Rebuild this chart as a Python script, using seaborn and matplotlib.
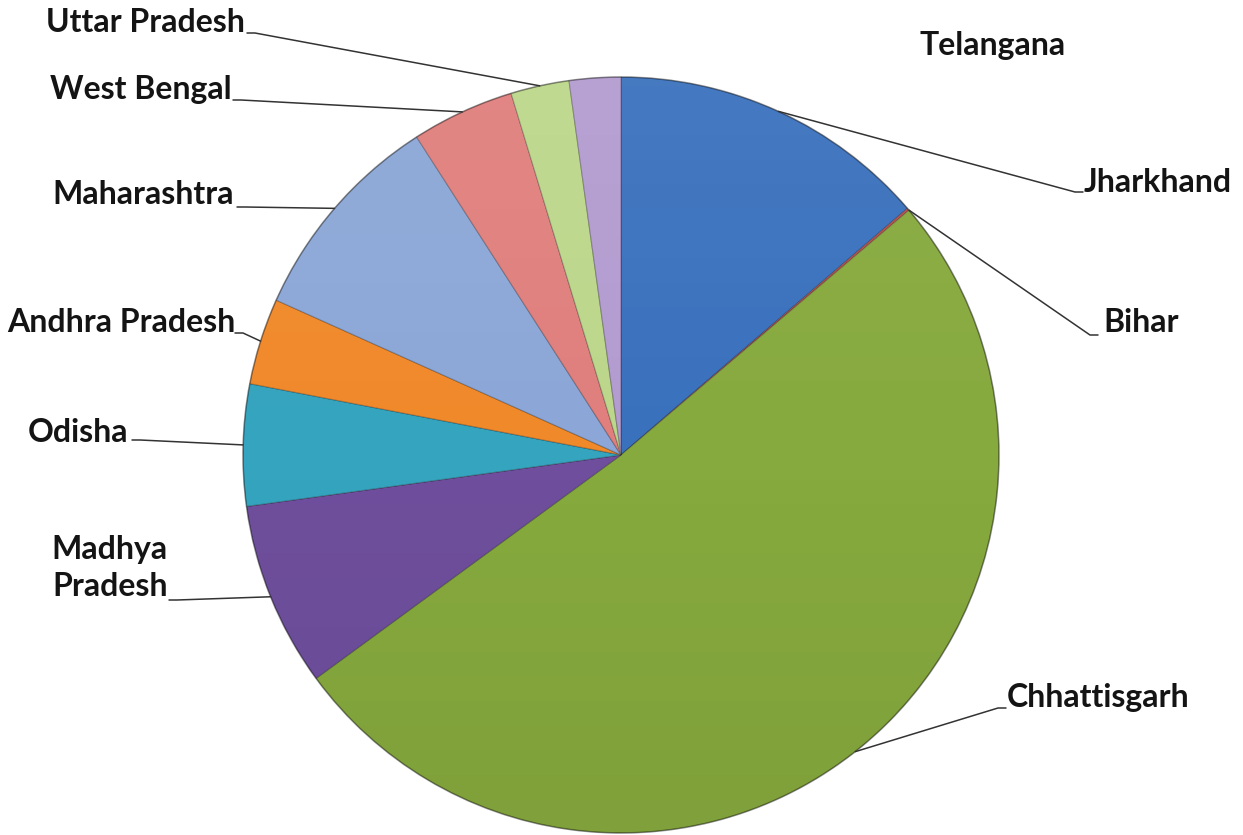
import numpy as np
import matplotlib
matplotlib.use("Agg")
import matplotlib.pyplot as plt
import matplotlib.patches as mpatches
import seaborn as sns

# Share of each state (percent), in drawing order clockwise from 12 o'clock
states = ["Jharkhand", "Bihar", "Chhattisgarh", "Madhya Pradesh", "Odisha",
          "Andhra Pradesh", "Maharashtra", "West Bengal", "Uttar Pradesh", "Telangana"]
shares = [13.7, 0.1, 51.2, 7.9, 5.2, 3.7, 9.2, 4.4, 2.5, 2.2]
colors = ["#3A71BD", "#C0504D", "#87AA3E", "#6F4F9D", "#35A4BF",
          "#F0892A", "#8CA7D7", "#E07F7D", "#BCD78B", "#B39CD0"]

sns.set_theme(style="white")
plt.rcParams["font.family"] = ["Lato", "DejaVu Sans"]

W, H = 1243, 835
fig = plt.figure(figsize=(W / 100, H / 100), dpi=100)
ax = fig.add_axes([0, 0, 1, 1])

cx, cy, R = 621, H - 455, 378
wedges, _ = ax.pie(shares, colors=colors, startangle=90, counterclock=False,
                   center=(cx, cy), radius=R, frame=True,
                   wedgeprops=dict(edgecolor=(0, 0, 0, 0.25), linewidth=0.8))

# soft top-to-bottom shading across the pie
grad = np.linspace(1, 0, 256).reshape(-1, 1)
shade = np.zeros((256, 1, 4))
shade[..., :3] = np.where(grad[..., None] > 0.5, 1.0, 0.0)
shade[..., 3] = np.abs(grad - 0.5) * 0.12
im = ax.imshow(shade, extent=(cx - R, cx + R, cy - R, cy + R), origin="upper",
               aspect="auto", zorder=3, interpolation="bilinear")
clip = mpatches.Circle((cx, cy), R, transform=ax.transData)
im.set_clip_path(clip)
ax.add_patch(mpatches.Circle((cx, cy), R, fill=False, edgecolor=(0, 0, 0, 0.3),
                             linewidth=1.2, zorder=4))
ax.set_xlim(0, W)
ax.set_ylim(0, H)
ax.set_aspect("equal")
ax.axis("off")


def rim_point(w, frac=0.5):
    a = np.deg2rad(w.theta1 + (w.theta2 - w.theta1) * frac)
    return cx + R * np.cos(a), cy + R * np.sin(a)


tkw = dict(fontsize=23, fontweight="bold", color="#141414", zorder=6)
lkw = dict(color="#333333", linewidth=1.1, zorder=5)

# label text position (px from top-left), alignment, leader start point
labels = {
    "Uttar Pradesh": ((245, 22), "right", (250, 33)),
    "West Bengal": ((232, 90), "right", (236, 100)),
    "Maharashtra": ((234, 195), "right", (240, 207)),
    "Andhra Pradesh": ((235, 323), "right", (238, 333)),
    "Odisha": ((128, 432), "right", (135, 440)),
    "Madhya Pradesh": ((168, 568), "right", (172, 600)),
    "Jharkhand": ((1084, 182), "left", (1080, 192)),
    "Bihar": ((1103, 323), "left", (1095, 335)),
    "Chhattisgarh": ((1007, 698), "left", (1003, 708)),
    "Telangana": ((920, 45), "left", None),
}

for w, name in zip(wedges, states):
    (tx, ty), ha, start = labels[name]
    text = "Madhya\nPradesh" if name == "Madhya Pradesh" else name
    ax.text(tx, H - ty, text, ha=ha, va="center", linespacing=1.3, **tkw)
    if start is None:
        continue
    if name == "Bihar":
        ex, ey = rim_point(w, 0.0)
    else:
        ex, ey = rim_point(w)
    sx, sy = start[0], H - start[1]
    if ha == "left":
        ax.plot([sx + 3, sx - 5, ex], [sy, sy, ey], **lkw)
    else:
        ax.plot([sx - 3, sx + 5, ex], [sy, sy, ey], **lkw)

fig.savefig("out.png", dpi=100, facecolor="white")
